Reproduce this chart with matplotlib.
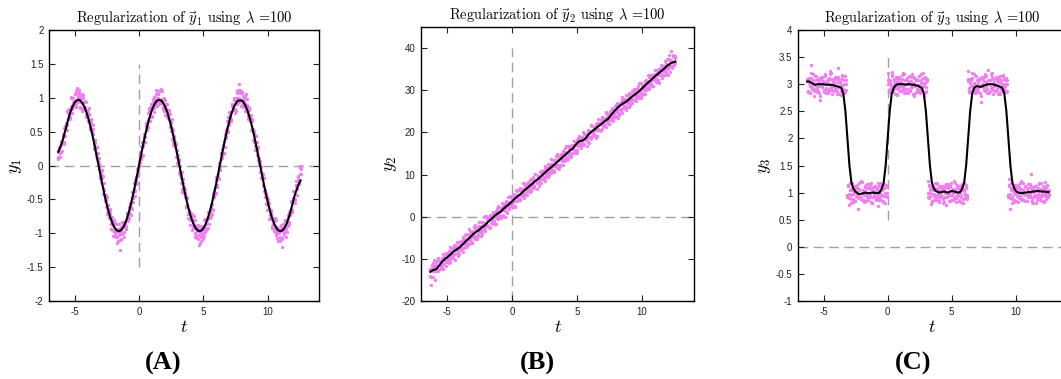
import numpy as np
import matplotlib
matplotlib.use("Agg")
import matplotlib.pyplot as plt

plt.rcParams['mathtext.fontset'] = 'cm'
plt.rcParams['axes.unicode_minus'] = False

# ---------------- data ----------------
t_range = (-2 * np.pi, 4 * np.pi)

# panel A: noisy samples of y1 (three sample sets on the same t grid)
y1_points_a = [
    0.12, 0.19, 0.28, 0.20, 0.32, 0.47, 0.34, 0.56, 0.53, 0.80,
    0.69, 0.83, 0.68, 0.88, 0.99, 0.87, 0.95, 1.05, 0.90, 1.14,
    0.96, 1.06, 0.87, 0.99, 1.06, 0.85, 0.93, 0.84, 0.94, 0.66,
    0.76, 0.57, 0.68, 0.49, 0.46, 0.26, 0.38, 0.26, 0.10, 0.18,
    -0.05, 0.00, -0.25, -0.19, -0.33, -0.26, -0.52, -0.51, -0.70, -0.59,
    -0.75, -0.67, -0.94, -0.83, -0.95, -0.81, -1.03, -0.94, -1.14, -0.95,
    -1.02, -1.25, -0.91, -1.01, -0.83, -0.98, -0.88, -0.94, -0.74, -0.79,
    -0.61, -0.72, -0.55, -0.64, -0.39, -0.38, -0.22, -0.28, -0.05, -0.16,
    0.03, 0.17, 0.11, 0.35, 0.29, 0.42, 0.35, 0.59, 0.60, 0.57,
    0.82, 0.72, 0.87, 0.73, 0.92, 1.01, 0.89, 1.11, 0.97, 1.05,
    0.91, 1.12, 0.95, 0.98, 0.84, 1.00, 0.86, 0.91, 0.72, 0.78,
    0.81, 0.59, 0.64, 0.39, 0.53, 0.36, 0.35, 0.13, 0.23, 0.05,
    0.09, -0.14, -0.14, -0.34, -0.26, -0.41, -0.35, -0.60, -0.58, -0.77,
    -0.65, -0.80, -0.72, -0.92, -0.86, -1.05, -0.90, -1.06, -0.88, -1.18,
    -0.98, -1.06, -0.91, -1.08, -0.91, -0.94, -0.79, -0.92, -0.76, -0.86,
    -0.68, -0.57, -0.64, -0.41, -0.47, -0.32, -0.40, -0.19, -0.17, 0.04,
    -0.07, 0.10, 0.25, 0.17, 0.36, 0.27, 0.53, 0.50, 0.71, 0.60,
    0.74, 0.67, 0.88, 0.84, 0.99, 0.84, 0.99, 1.10, 0.93, 1.20,
    0.97, 1.08, 0.89, 1.02, 0.93, 1.03, 0.82, 0.89, 0.69, 0.82,
    0.68, 0.74, 0.53, 0.54, 0.35, 0.45, 0.27, 0.34, 0.08, 0.11,
    -0.09, -0.02, -0.19, -0.13, -0.38, -0.36, -0.57, -0.47, -0.59, -0.56,
    -0.79, -0.72, -0.92, -0.78, -0.93, -0.80, -1.02, -0.95, -1.12, -0.94,
    -1.05, -0.91, -1.21, -0.94, -1.03, -0.82, -0.94, -0.84, -0.90, -0.69,
    -0.73, -0.54, -0.65, -0.48, -0.55, -0.30, -0.34, -0.17, -0.25, -0.12,
    -0.01,
]
y1_points_b = [
    0.10, 0.28, 0.19, 0.36, 0.22, 0.42, 0.31, 0.58, 0.60, 0.60,
    0.82, 0.68, 0.84, 1.01, 0.78, 0.94, 0.91, 1.06, 0.87, 1.07,
    0.99, 1.12, 0.93, 1.02, 0.80, 1.00, 0.86, 0.95, 0.74, 0.78,
    0.85, 0.55, 0.63, 0.50, 0.54, 0.25, 0.37, 0.18, 0.27, 0.07,
    0.04, -0.19, -0.08, -0.26, -0.16, -0.44, -0.43, -0.61, -0.47, -0.66,
    -0.78, -0.71, -0.94, -0.76, -0.88, -0.96, -0.85, -1.05, -0.96, -1.12,
    -0.94, -1.00, -1.09, -0.83, -1.00, -0.85, -0.91, -0.94, -0.70, -0.82,
    -0.68, -0.57, -0.73, -0.47, -0.48, -0.26, -0.38, -0.22, -0.26, -0.02,
    -0.01, 0.20, 0.10, 0.28, 0.16, 0.46, 0.42, 0.62, 0.52, 0.67,
    0.85, 0.66, 0.85, 0.83, 0.98, 0.79, 1.01, 0.92, 1.10, 0.99,
    0.93, 1.10, 0.97, 1.10, 0.86, 0.96, 0.75, 0.91, 0.82, 0.71,
    0.82, 0.57, 0.62, 0.68, 0.34, 0.40, 0.27, 0.32, 0.04, 0.15,
    0.06, -0.08, -0.26, -0.09, -0.36, -0.31, -0.47, -0.61, -0.48, -0.71,
    -0.68, -0.68, -0.95, -0.80, -0.92, -0.80, -1.02, -0.96, -1.09, -0.94,
    -0.96, -1.11, -0.91, -1.00, -0.80, -0.98, -0.87, -0.94, -0.69, -0.77,
    -0.78, -0.60, -0.72, -0.43, -0.44, -0.42, -0.21, -0.31, -0.13, -0.20,
    -0.01, 0.19, 0.11, 0.29, 0.18, 0.47, 0.43, 0.56, 0.49, 0.79,
    0.73, 0.69, 0.91, 0.82, 0.97, 0.77, 1.00, 0.91, 1.11, 0.99,
    1.07, 0.88, 1.08, 0.93, 0.97, 0.81, 1.05, 0.88, 0.73, 0.87,
    0.66, 0.66, 0.65, 0.38, 0.49, 0.29, 0.44, 0.21, 0.26, 0.01,
    0.06, -0.18, -0.15, -0.30, -0.19, -0.41, -0.40, -0.66, -0.51, -0.62,
    -0.77, -0.65, -0.90, -0.87, -0.82, -0.97, -0.81, -1.07, -0.99, -0.94,
    -1.12, -0.97, -1.07, -0.87, -0.99, -0.91, -0.80, -0.98, -0.76, -0.83,
    -0.72, -0.53, -0.68, -0.50, -0.51, -0.23, -0.34, -0.15, -0.27, -0.04,
    -0.05,
]
y1_points_c = [
    0.22, 0.23, 0.13, 0.32, 0.32, 0.34, 0.55, 0.44, 0.62, 0.53,
    0.77, 0.76, 0.71, 0.99, 0.84, 0.99, 0.93, 0.88, 1.10, 0.94,
    1.03, 1.08, 0.85, 1.02, 0.92, 1.04, 0.82, 0.86, 0.71, 0.82,
    0.75, 0.54, 0.67, 0.49, 0.60, 0.32, 0.33, 0.14, 0.28, 0.07,
    0.11, -0.16, -0.13, -0.07, -0.42, -0.36, -0.49, -0.43, -0.71, -0.58,
    -0.72, -0.64, -0.87, -0.80, -1.04, -0.84, -0.98, -0.87, -1.06, -0.98,
    -0.86, -1.10, -0.95, -0.99, -0.86, -1.05, -0.83, -0.90, -0.70, -0.77,
    -0.78, -0.55, -0.61, -0.39, -0.54, -0.34, -0.45, -0.17, -0.15, -0.13,
    0.07, 0.03, 0.29, 0.14, 0.30, 0.42, 0.35, 0.60, 0.56, 0.77,
    0.65, 0.76, 0.91, 0.71, 0.94, 0.85, 0.97, 1.06, 0.88, 1.06,
    0.97, 0.92, 1.13, 0.92, 0.98, 0.80, 0.96, 0.84, 0.91, 0.70,
    0.67, 0.76, 0.51, 0.55, 0.30, 0.44, 0.29, 0.32, 0.04, 0.09,
    -0.11, 0.00, -0.19, -0.39, -0.20, -0.40, -0.41, -0.61, -0.47, -0.72,
    -0.70, -0.88, -0.75, -0.90, -0.74, -1.00, -0.92, -1.07, -0.92, -1.02,
    -1.14, -0.90, -1.03, -0.95, -1.04, -0.79, -0.95, -0.80, -0.92, -0.75,
    -0.64, -0.75, -0.57, -0.65, -0.36, -0.42, -0.17, -0.29, -0.17, -0.03,
    -0.06, 0.18, 0.15, 0.30, 0.19, 0.41, 0.40, 0.66, 0.51, 0.62,
    0.77, 0.65, 0.90, 0.87, 0.82, 0.97, 0.81, 1.07, 0.99, 0.94,
    1.12, 0.97, 1.07, 0.87, 0.99, 0.91, 0.80, 0.98, 0.76, 0.83,
    0.72, 0.53, 0.68, 0.50, 0.51, 0.23, 0.34, 0.15, 0.27, 0.04,
    0.01, -0.19, -0.11, -0.29, -0.18, -0.47, -0.43, -0.56, -0.49, -0.79,
    -0.73, -0.69, -0.91, -0.82, -0.97, -0.77, -1.00, -0.91, -1.11, -0.99,
    -1.07, -0.88, -1.08, -0.93, -0.97, -0.81, -1.05, -0.88, -0.73, -0.87,
    -0.66, -0.66, -0.65, -0.38, -0.49, -0.29, -0.44, -0.21, -0.26, -0.01,
    -0.12,
]

# panel A: regularized curve
y1_fit = [
    0.20, 0.27, 0.35, 0.46, 0.57, 0.686, 0.785, 0.864, 0.922, 0.958,
    0.970, 0.958, 0.922, 0.864, 0.785, 0.686, 0.570, 0.440, 0.300, 0.151,
    0.0, -0.151, -0.300, -0.440, -0.570, -0.686, -0.785, -0.864, -0.922, -0.958,
    -0.970, -0.958, -0.922, -0.864, -0.785, -0.686, -0.570, -0.440, -0.300, -0.151,
    0.0, 0.151, 0.300, 0.440, 0.570, 0.686, 0.785, 0.864, 0.922, 0.958,
    0.970, 0.958, 0.922, 0.864, 0.785, 0.686, 0.570, 0.440, 0.300, 0.151,
    0.0, -0.151, -0.300, -0.440, -0.570, -0.686, -0.785, -0.864, -0.922, -0.958,
    -0.970, -0.958, -0.922, -0.864, -0.785, -0.686, -0.570, -0.440, -0.300, -0.151,
    0.0, 0.151, 0.300, 0.440, 0.570, 0.686, 0.785, 0.864, 0.922, 0.958,
    0.960, 0.958, 0.922, 0.864, 0.785, 0.686, 0.570, 0.440, 0.300, 0.151,
    0.0, -0.151, -0.300, -0.440, -0.570, -0.686, -0.785, -0.864, -0.922, -0.958,
    -0.970, -0.958, -0.922, -0.864, -0.785, -0.686, -0.570, -0.450, -0.360, -0.280,
    -0.22,
]

# panel B: noisy samples of y2
y2_points_a = [
    -12.4, -14.2, -12.5, -11.0, -12.9, -15.0, -11.0, -12.1, -9.7, -12.4,
    -10.9, -9.8, -12.4, -10.0, -10.5, -8.6, -10.7, -8.9, -10.9, -7.1,
    -9.2, -8.2, -9.9, -7.4, -8.9, -7.5, -6.1, -9.3, -7.2, -7.6,
    -5.7, -7.7, -5.6, -6.4, -4.4, -7.2, -5.3, -6.2, -2.9, -5.6,
    -3.7, -6.2, -4.0, -4.4, -2.7, -4.8, -2.8, -4.2, -1.2, -3.2,
    -2.2, -4.0, -1.3, -2.7, 0.1, -2.1, -0.6, -2.5, 0.4, -1.5,
    -0.4, 0.8, -1.2, 0.6, -0.2, 2.0, -0.5, 1.2, 2.0, -0.3,
    2.0, 1.5, 3.0, 1.3, 2.9, 1.2, 4.6, 2.5, 3.4, 2.5,
    4.9, 3.5, 4.7, 2.5, 4.8, 6.2, 4.3, 5.2, 4.2, 6.4,
    5.3, 8.1, 5.3, 6.8, 5.2, 7.7, 6.8, 7.9, 5.9, 8.9,
    7.2, 8.3, 7.2, 10.1, 8.2, 9.6, 7.3, 9.5, 10.6, 9.0,
    10.4, 8.9, 11.7, 10.2, 11.6, 9.3, 11.8, 10.9, 13.6, 10.9,
    12.3, 10.9, 13.4, 12.4, 14.3, 12.2, 13.6, 12.1, 14.9, 13.8,
    14.8, 13.2, 16.3, 14.1, 15.1, 13.6, 16.4, 15.2, 16.7, 15.0,
    16.8, 18.0, 15.9, 17.1, 15.8, 18.6, 17.2, 18.5, 16.2, 18.6,
    17.4, 19.7, 18.4, 19.6, 17.7, 20.3, 19.0, 21.8, 19.2, 20.6,
    19.3, 21.2, 18.6, 22.3, 20.8, 22.3, 20.3, 22.0, 23.6, 21.6,
    23.3, 21.7, 24.8, 22.8, 23.8, 21.9, 24.8, 23.4, 25.9, 23.5,
    24.9, 23.6, 26.4, 25.0, 26.1, 24.2, 26.8, 25.4, 28.3, 25.7,
    27.1, 25.8, 28.0, 27.0, 28.8, 26.0, 28.5, 27.7, 29.9, 27.6,
    29.6, 28.4, 30.4, 28.1, 30.1, 29.6, 31.8, 29.3, 30.7, 29.2,
    32.0, 30.7, 32.2, 30.4, 33.2, 31.2, 32.5, 30.9, 33.5, 32.5,
    34.7, 32.4, 34.0, 32.4, 35.1, 33.5, 35.0, 32.8, 35.8, 34.6,
    35.8, 34.3, 37.4, 35.1, 38.3, 35.7, 39.4, 35.6, 38.1, 36.2,
    38.1,
]
y2_points_b = [
    -12.7, -14.4, -11.8, -13.0, -10.3, -12.9, -11.6, -12.9, -9.9, -11.4,
    -12.0, -10.2, -12.4, -9.3, -10.1, -10.5, -8.5, -10.6, -9.0, -10.8,
    -8.2, -8.8, -9.9, -6.6, -8.9, -7.0, -8.0, -8.7, -5.9, -7.9,
    -6.5, -5.7, -8.3, -5.6, -6.5, -4.2, -6.5, -5.3, -6.5, -4.2,
    -5.7, -3.3, -4.7, -2.5, -5.2, -3.2, -5.3, -2.5, -3.0, -3.6,
    -1.3, -3.5, -1.9, 0.0, -3.3, -1.4, -1.9, 0.0, -2.6, 0.1,
    -0.7, 1.2, -1.0, 0.7, -1.8, 1.5, 0.3, 2.2, 0.2, 1.6,
    3.3, 0.4, 2.4, 1.8, 3.5, 0.9, 3.6, 2.3, 4.6, 3.3,
    4.1, 2.4, 5.0, 3.8, 6.4, 3.8, 5.2, 3.9, 6.9, 5.4,
    4.8, 6.6, 4.4, 7.5, 6.6, 6.2, 8.3, 6.2, 7.8, 6.0,
    8.6, 8.0, 6.9, 10.2, 7.9, 9.7, 8.8, 8.1, 10.9, 8.9,
    10.3, 11.1, 8.5, 11.2, 10.3, 12.5, 10.3, 11.5, 10.3, 12.6,
    11.1, 13.5, 12.1, 14.3, 11.6, 13.5, 11.4, 14.3, 13.8, 13.2,
    15.5, 13.3, 14.9, 16.8, 13.5, 15.4, 14.8, 16.8, 14.2, 16.9,
    16.1, 18.0, 15.8, 17.5, 15.0, 18.2, 17.0, 19.0, 17.0, 18.4,
    20.1, 17.2, 19.2, 18.6, 20.3, 17.6, 20.3, 19.0, 21.4, 20.1,
    20.9, 19.2, 21.8, 20.6, 23.2, 20.6, 21.9, 20.6, 23.7, 22.2,
    21.6, 23.4, 21.2, 24.3, 23.4, 23.0, 25.0, 22.9, 24.6, 22.8,
    25.4, 24.8, 23.7, 27.0, 24.7, 26.5, 25.5, 24.8, 27.7, 25.7,
    27.1, 27.9, 25.3, 28.0, 27.1, 29.3, 27.0, 28.2, 27.0, 29.4,
    27.9, 30.3, 28.9, 31.1, 28.4, 30.3, 28.2, 31.0, 30.5, 30.0,
    32.3, 30.1, 31.7, 33.6, 30.3, 32.2, 31.6, 33.5, 30.9, 33.7,
    32.9, 34.8, 32.6, 34.3, 31.8, 35.0, 33.8, 35.7, 33.7, 35.1,
    36.9, 34.0, 36.0, 35.4, 37.1, 34.4, 37.1, 35.8, 38.1, 36.8,
    37.7,
]
y2_points_c = [
    -14.0, -16.1, -11.5, -14.4, -11.6, -13.0, -11.6, -10.5, -12.9, -10.5,
    -11.5, -11.9, -8.9, -11.2, -9.8, -11.6, -8.9, -9.7, -8.1, -10.0,
    -9.5, -7.4, -9.6, -8.0, -10.2, -7.1, -8.0, -6.3, -8.9, -7.0,
    -6.0, -7.4, -4.8, -7.5, -6.2, -5.3, -6.9, -4.4, -5.6, -3.4,
    -4.7, -6.2, -3.6, -4.9, -2.0, -4.7, -3.1, -4.6, -2.2, -3.2,
    -4.5, -1.2, -2.8, -1.8, -3.1, 0.1, -2.2, -0.5, -2.4, -0.7,
    0.3, -1.7, 0.1, -1.7, 1.4, -0.1, 2.5, 0.1, 1.0, 2.0,
    0.1, 2.7, 1.5, 0.0, 3.7, 2.3, 3.3, 1.8, 4.8, 2.5,
    2.8, 3.8, 5.3, 2.4, 5.1, 3.7, 5.2, 6.3, 3.9, 6.3,
    5.3, 4.9, 7.9, 5.6, 6.9, 5.1, 7.9, 7.1, 8.7, 6.8,
    7.3, 9.4, 7.2, 8.8, 6.6, 9.6, 8.8, 10.5, 7.9, 9.8,
    10.8, 9.4, 12.0, 9.3, 10.6, 11.4, 9.9, 12.4, 11.2, 13.4,
    12.1, 10.6, 13.2, 11.9, 14.8, 12.0, 13.6, 12.2, 14.6, 13.6,
    12.3, 15.6, 14.0, 15.0, 13.7, 16.8, 14.5, 16.3, 14.4, 16.1,
    17.1, 15.1, 16.9, 15.1, 18.2, 16.7, 19.2, 16.9, 17.8, 18.8,
    16.9, 19.5, 18.3, 16.8, 20.5, 19.0, 20.0, 18.5, 21.6, 19.3,
    19.6, 20.6, 22.1, 19.2, 21.9, 20.5, 21.9, 23.0, 20.7, 23.1,
    22.1, 21.7, 24.7, 22.4, 23.7, 21.9, 24.6, 23.8, 25.5, 23.6,
    24.1, 26.2, 24.0, 25.6, 23.4, 26.4, 25.5, 27.2, 24.7, 26.6,
    27.6, 26.2, 28.8, 26.1, 27.4, 28.2, 26.6, 29.1, 27.9, 30.2,
    28.9, 27.4, 30.0, 28.7, 31.6, 28.8, 30.4, 28.9, 31.3, 30.4,
    29.1, 32.4, 30.8, 31.8, 30.5, 33.6, 31.3, 33.0, 31.1, 32.9,
    33.9, 31.9, 33.7, 31.9, 35.0, 33.5, 36.0, 33.6, 34.5, 35.5,
    33.7, 36.3, 35.1, 33.6, 37.3, 35.8, 36.8, 35.3, 38.3, 36.0,
    36.5,
]

# panel B: regularized curve
y2_fit = [
    -13.10, -12.75, -12.55, -12.40, -11.80, -11.15, -10.60, -10.10, -9.75, -9.35,
    -8.90, -8.45, -8.05, -7.75, -7.40, -7.00, -6.50, -6.00, -5.55, -5.10,
    -4.65, -4.10, -3.75, -3.45, -3.10, -2.60, -2.30, -1.90, -1.35, -0.90,
    -0.50, -0.05, 0.40, 0.75, 1.05, 1.45, 1.95, 2.40, 2.75, 3.15,
    3.60, 4.10, 4.50, 4.90, 5.30, 5.75, 6.20, 6.60, 7.05, 7.45,
    7.85, 8.30, 8.70, 9.05, 9.50, 9.95, 10.40, 10.85, 11.25, 11.65,
    12.05, 12.45, 12.90, 13.35, 13.80, 14.25, 14.65, 15.10, 15.55, 15.90,
    16.30, 16.95, 17.50, 17.90, 18.00, 18.15, 18.60, 19.20, 19.75, 20.20,
    20.55, 20.95, 21.35, 21.70, 22.10, 22.50, 22.85, 23.20, 23.80, 24.40,
    25.00, 25.50, 26.00, 26.40, 26.75, 27.05, 27.35, 27.70, 28.15, 28.55,
    28.90, 29.25, 29.65, 30.10, 30.60, 31.05, 31.50, 31.95, 32.40, 32.85,
    33.30, 33.70, 34.10, 34.50, 34.90, 35.35, 35.80, 36.15, 36.45, 36.65,
    36.80,
]

# panel C: noisy samples of y3
y3_points_a = [
    3.05, 2.86, 3.12, 2.97, 3.35, 2.92, 3.08, 2.79, 3.01, 3.15,
    2.94, 2.88, 3.06, 2.71, 3.10, 2.98, 3.04, 2.85, 3.18, 2.93,
    3.02, 2.89, 3.11, 3.24, 2.96, 2.82, 3.07, 3.00, 2.91, 3.14,
    2.87, 3.29, 2.95, 3.03, 2.80, 3.09, 2.99, 2.84, 3.16, 2.90,
    0.93, 1.12, 0.78, 1.04, 0.96, 1.17, 0.88, 1.01, 0.85, 1.09,
    0.97, 0.70, 1.06, 0.91, 1.20, 0.99, 0.83, 1.03, 1.14, 0.92,
    0.87, 1.08, 0.95, 1.18, 0.80, 1.02, 0.94, 1.11, 0.89, 1.05,
    0.76, 1.13, 0.98, 0.86, 1.07, 0.93, 1.15, 0.81, 1.00, 1.10,
    3.20, 2.90, 3.05, 2.97, 3.23, 2.86, 3.09, 2.93, 3.01, 2.80,
    3.14, 2.95, 3.04, 2.88, 3.17, 2.99, 2.83, 3.08, 2.92, 3.12,
    3.00, 2.87, 3.06, 2.94, 3.19, 2.81, 3.03, 2.96, 3.10, 2.89,
    2.98, 3.15, 2.84, 3.07, 2.91, 3.02, 2.78, 3.13, 2.95, 3.08,
    1.22, 0.90, 1.05, 0.79, 1.11, 0.97, 0.86, 1.08, 0.93, 1.16,
    1.00, 0.82, 1.04, 0.95, 1.13, 0.88, 1.07, 0.99, 0.77, 1.10,
    0.94, 1.02, 0.85, 1.18, 0.96, 1.06, 0.90, 1.01, 0.83, 1.12,
    0.97, 0.87, 1.05, 0.92, 1.15, 0.80, 1.03, 0.95, 1.09, 0.89,
    3.24, 2.93, 3.06, 2.87, 3.10, 2.97, 3.02, 2.83, 3.15, 2.91,
    3.04, 2.96, 3.12, 2.68, 2.99, 3.08, 2.89, 3.18, 2.95, 3.01,
    3.27, 2.86, 3.07, 2.94, 3.13, 2.81, 3.03, 2.98, 3.11, 2.90,
    3.05, 2.84, 3.16, 2.92, 3.00, 2.88, 3.09, 2.96, 3.12, 2.87,
    0.95, 1.26, 0.70, 1.08, 0.91, 1.03, 0.86, 1.14, 0.97, 1.00,
    0.82, 1.11, 0.93, 1.06, 0.88, 1.17, 0.99, 0.84, 1.04, 0.92,
    1.09, 0.96, 1.35, 0.87, 1.02, 0.94, 1.12, 0.81, 1.05, 0.98,
    1.15, 0.90, 1.07, 0.85, 1.01, 0.95, 1.19, 0.88, 1.04, 0.92,
    0.97,
]
y3_points_b = [
    3.05, 2.86, 3.10, 2.96, 3.20, 2.92, 3.03, 2.88, 3.16, 2.99,
    2.91, 3.07, 2.83, 3.12, 3.01, 2.95, 3.13, 2.90, 3.04, 2.84,
    3.08, 3.00, 2.87, 3.18, 2.93, 3.09, 2.97, 2.88, 3.14, 2.92,
    3.04, 3.10, 2.82, 3.07, 2.96, 3.16, 2.91, 3.01, 2.87, 3.08,
    0.91, 1.13, 0.97, 1.17, 0.88, 1.05, 0.82, 1.08, 1.01, 0.93,
    1.14, 0.90, 1.04, 1.21, 0.86, 1.03, 0.95, 1.12, 0.84, 1.09,
    0.99, 1.16, 0.92, 1.07, 0.80, 1.10, 0.96, 1.13, 0.91, 1.03,
    1.18, 0.87, 1.05, 0.97, 1.12, 0.83, 1.08, 0.93, 1.14, 0.99,
    3.08, 2.87, 3.01, 2.91, 3.16, 2.96, 3.07, 2.82, 3.10, 3.04,
    2.92, 3.14, 2.88, 2.97, 3.09, 2.93, 3.18, 2.87, 3.00, 3.08,
    2.84, 3.04, 2.90, 3.13, 2.95, 3.01, 3.12, 2.83, 3.07, 2.91,
    2.99, 3.16, 2.88, 3.03, 2.92, 3.20, 2.96, 3.10, 2.86, 3.05,
    0.99, 1.14, 0.93, 1.08, 0.83, 1.12, 0.97, 1.05, 0.87, 1.18,
    1.03, 0.91, 1.13, 0.96, 1.10, 0.80, 1.07, 0.92, 1.16, 0.99,
    1.09, 0.84, 1.12, 0.95, 1.03, 0.86, 1.21, 1.04, 0.90, 1.14,
    0.93, 1.01, 1.08, 0.82, 1.05, 0.88, 1.17, 0.97, 1.13, 0.91,
    3.05, 2.86, 3.10, 2.96, 3.20, 2.92, 3.03, 2.88, 3.16, 2.99,
    2.91, 3.07, 2.83, 3.12, 3.01, 2.95, 3.13, 2.90, 3.04, 2.84,
    3.08, 3.00, 2.87, 3.18, 2.93, 3.09, 2.97, 2.88, 3.14, 2.92,
    3.04, 3.10, 2.82, 3.07, 2.96, 3.16, 2.91, 3.01, 2.87, 3.08,
    0.91, 1.13, 0.97, 1.17, 0.88, 1.05, 0.82, 1.08, 1.01, 0.93,
    1.14, 0.90, 1.04, 1.21, 0.86, 1.03, 0.95, 1.12, 0.84, 1.09,
    0.99, 1.16, 0.92, 1.07, 0.80, 1.10, 0.96, 1.13, 0.91, 1.03,
    1.18, 0.87, 1.05, 0.97, 1.12, 0.83, 1.08, 0.93, 1.14, 0.99,
    1.05,
]
y3_points_c = [
    3.09, 2.87, 3.03, 2.83, 3.12, 2.95, 3.18, 2.92, 2.99, 3.07,
    2.86, 3.10, 2.96, 2.79, 3.14, 2.97, 3.05, 2.88, 3.16, 2.91,
    3.01, 2.84, 3.08, 2.93, 3.20, 2.90, 3.04, 2.87, 3.09, 2.97,
    2.82, 3.13, 2.95, 3.03, 2.88, 3.17, 2.92, 3.07, 2.86, 3.01,
    0.95, 1.14, 0.90, 1.04, 0.80, 1.08, 0.97, 1.12, 0.84, 1.01,
    1.09, 0.93, 1.17, 0.88, 0.99, 1.05, 0.87, 1.10, 0.96, 1.16,
    0.92, 1.00, 1.13, 0.82, 1.07, 0.91, 1.03, 1.12, 0.86, 1.08,
    0.96, 0.90, 1.18, 0.93, 1.04, 0.84, 1.09, 0.99, 1.13, 0.92,
    3.01, 2.86, 3.07, 2.92, 3.17, 2.88, 3.03, 2.95, 3.13, 2.82,
    2.97, 3.09, 2.87, 3.04, 2.90, 3.20, 2.93, 3.08, 2.84, 3.01,
    2.91, 3.16, 2.88, 3.05, 2.97, 3.14, 2.79, 2.96, 3.10, 2.86,
    3.07, 2.99, 2.92, 3.18, 2.95, 3.12, 2.83, 3.03, 2.87, 3.09,
    0.92, 1.13, 0.99, 1.09, 0.84, 1.04, 0.93, 1.18, 0.90, 0.96,
    1.08, 0.86, 1.12, 1.03, 0.91, 1.07, 0.82, 1.13, 1.00, 0.92,
    1.16, 0.96, 1.10, 0.87, 1.05, 0.99, 0.88, 1.17, 0.93, 1.09,
    1.01, 0.84, 1.12, 0.97, 1.08, 0.80, 1.04, 0.90, 1.14, 0.95,
    3.09, 2.87, 3.03, 2.83, 3.12, 2.95, 3.18, 2.92, 2.99, 3.07,
    2.86, 3.10, 2.96, 2.79, 3.14, 2.97, 3.05, 2.88, 3.16, 2.91,
    3.01, 2.84, 3.08, 2.93, 3.20, 2.90, 3.04, 2.87, 3.09, 2.97,
    2.82, 3.13, 2.95, 3.03, 2.88, 3.17, 2.92, 3.07, 2.86, 3.01,
    0.95, 1.14, 0.90, 1.04, 0.80, 1.08, 0.97, 1.12, 0.84, 1.01,
    1.09, 0.93, 1.17, 0.88, 0.99, 1.05, 0.87, 1.10, 0.96, 1.16,
    0.92, 1.00, 1.13, 0.82, 1.07, 0.91, 1.03, 1.12, 0.86, 1.08,
    0.96, 0.90, 1.18, 0.93, 1.04, 0.84, 1.09, 0.99, 1.13, 0.92,
    0.96,
]

# panel C: regularized curve
y3_fit = [
    3.05, 3.05, 3.03, 3.00, 2.99, 3.00, 3.00, 3.00, 3.00, 2.99,
    2.99, 2.99, 2.99, 2.98, 2.97, 2.96, 2.95, 2.93, 2.82, 2.50,
    2.00, 1.50, 1.18, 1.07, 1.02, 0.99, 0.97, 0.98, 0.99, 1.00,
    0.99, 0.99, 1.00, 1.00, 0.99, 0.99, 1.00, 1.07, 1.18, 1.50,
    2.00, 2.50, 2.82, 2.93, 2.98, 3.00, 3.00, 3.00, 3.00, 2.99,
    3.00, 3.00, 2.99, 2.99, 2.98, 2.97, 2.95, 2.93, 2.82, 2.50,
    2.00, 1.50, 1.18, 1.07, 1.03, 1.01, 1.00, 1.01, 1.02, 1.01,
    1.00, 1.02, 1.03, 1.02, 1.01, 1.00, 1.01, 1.07, 1.18, 1.50,
    2.00, 2.50, 2.82, 2.93, 2.96, 2.96, 2.95, 2.96, 2.98, 2.99,
    3.00, 3.00, 3.00, 2.99, 2.98, 2.97, 2.95, 2.93, 2.82, 2.50,
    2.00, 1.50, 1.18, 1.07, 1.02, 1.00, 0.99, 0.99, 1.00, 1.00,
    1.01, 1.01, 1.02, 1.02, 1.03, 1.03, 1.02, 1.02, 1.02, 1.01,
    1.01,
]

titles = [r"Regularization of $\vec{y}_1$ using $\lambda$ =100",
          r"Regularization of $\vec{y}_2$ using $\lambda$ =100",
          r"Regularization of $\vec{y}_3$ using $\lambda$ =100"]
ylabels = [r"$y_1$", r"$y_2$", r"$y_3$"]
xlabel = r"$t$"
panel_labels = ["(A)", "(B)", "(C)"]
ylims = [(-2, 2), (-20, 45), (-1, 4)]
yticks = [[-2, -1.5, -1, -0.5, 0, 0.5, 1, 1.5, 2],
          [-20, -10, 0, 10, 20, 30, 40],
          [-1, -0.5, 0, 0.5, 1, 1.5, 2, 2.5, 3, 3.5, 4]]
xticks = [-5, 0, 5, 10]
xlim = (-7, 14)
vline_spans = [(-1.5, 1.5), (-20, 40), (0.5, 3.5)]

# ---------------- layout ----------------
W, H = 1061, 379
fig = plt.figure(figsize=(W / 100, H / 100), dpi=100)
rects_px = [(49, 30, 270, 271), (421, 27, 273, 274), (798, 30, 269, 271)]

points_list = [[y1_points_a, y1_points_b, y1_points_c],
               [y2_points_a, y2_points_b, y2_points_c],
               [y3_points_a, y3_points_b, y3_points_c]]
fit_list = [y1_fit, y2_fit, y3_fit]
label_x_px = [163, 537, 913]

for i in range(3):
    x0, y0, w, h = rects_px[i]
    ax = fig.add_axes([x0 / W, 1 - (y0 + h) / H, w / W, h / H])

    ax.axhline(0, color='#a0a0a0', lw=1.0, dashes=(7, 4), zorder=1)
    ax.vlines(0, vline_spans[i][0], vline_spans[i][1], color='#a0a0a0',
              lw=1.0, linestyles=(0, (7, 4)), zorder=1)
    for ys in points_list[i]:
        yp = np.array(ys)
        tp = np.linspace(t_range[0], t_range[1], len(yp))
        ax.plot(tp, yp, 'o', ms=2.4, mew=0, color='#f27df2', zorder=2)
    yf = np.array(fit_list[i])
    tf = np.linspace(t_range[0], t_range[1], len(yf))
    ax.plot(tf, yf, '-', lw=1.5, color='black', zorder=3)

    ax.set_xlim(*xlim)
    ax.set_ylim(*ylims[i])
    ax.set_xticks(xticks)
    ax.set_yticks(yticks[i])
    ax.set_xticklabels([f"{v:g}" for v in xticks], family='Liberation Sans')
    ax.set_yticklabels([f"{v:g}" for v in yticks[i]], family='Liberation Sans')
    ax.tick_params(direction='in', top=True, right=True, length=4, width=0.8,
                   labelsize=7, pad=4, colors='#222222')
    for s in ax.spines.values():
        s.set_linewidth(1.0)
    ax.set_title(titles[i], family='cmr10', fontsize=10.4, pad=5)
    ax.set_xlabel(xlabel, fontsize=13, labelpad=1)
    ax.set_ylabel(ylabels[i], fontsize=13, labelpad=2)
    fig.text(label_x_px[i] / W, 1 - 363 / H, panel_labels[i],
             family='Liberation Serif', weight='bold', fontsize=19,
             ha='center', va='center')

fig.savefig('out.png', dpi=100)
